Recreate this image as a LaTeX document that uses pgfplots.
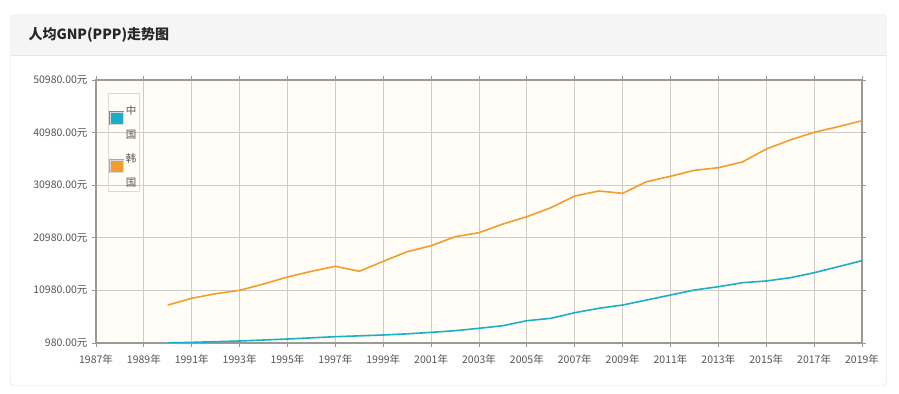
\documentclass[border=0pt]{standalone}
\usepackage{pgfplots}
\pgfplotsset{compat=1.18}
\usepackage{fontspec}
\setmainfont{Noto Sans CJK SC}
\definecolor{cnblue}{HTML}{1AAFC6}
\definecolor{krorange}{HTML}{F29E2E}
\definecolor{plotbg}{HTML}{FFFDF5}
\definecolor{gridc}{HTML}{CCCCCC}
\definecolor{axc}{HTML}{9A9A9A}
\definecolor{tickc}{HTML}{555555}
\newcommand\vt[2]{\raisebox{4.5bp}{\ensuremath{\vcenter{\baselineskip=24.5bp\hbox{#1}\hbox{#2}}}}\hspace{8bp}}
\begin{document}
\begin{tikzpicture}
\fill[white] (0bp,0bp) rectangle (899bp,394bp);
\draw[black!13, rounded corners=3bp] (10.5bp,8.5bp) rectangle (886.5bp,379.5bp);
\fill[black!4] (11bp,339bp) rectangle (886bp,379bp);
\draw[black!10] (11bp,339bp) -- (886bp,339bp);
\node[anchor=west, font=\bfseries\fontsize{14bp}{16bp}\selectfont, text=black!85] at (25bp,359bp) {人均GNP(PPP)走势图};
\begin{axis}[
  at={(96bp,51bp)}, anchor=south west,
  scale only axis, width=766bp, height=263bp,
  xmin=1987, xmax=2019, ymin=980, ymax=50980,
  scaled y ticks=false,
  xtick={1987,1989,...,2019},
  xticklabels={1987年,1989年,1991年,1993年,1995年,1997年,1999年,2001年,2003年,2005年,2007年,2009年,2011年,2013年,2015年,2017年,2019年},
  ytick={980,10980,20980,30980,40980,50980},
  yticklabels={980.00元,10980.00元,20980.00元,30980.00元,40980.00元,50980.00元},
  tick label style={font=\fontsize{10.5bp}{12bp}\selectfont, text=tickc},
  xticklabel style={yshift=-4bp},
  yticklabel style={xshift=-1bp},
  grid=major, major grid style={gridc, line width=0.8bp},
  axis line style={axc, line width=1.8bp},
  tick style={axc, line width=0.8bp},
  tick align=outside, major tick length=4bp,
  axis background/.style={fill=plotbg},
  legend style={at={(rel axis cs:0,1)}, anchor=north west, xshift=12bp, yshift=-13bp,
    draw=black!15, fill=none, font=\fontsize{10.5bp}{12bp}\selectfont, text=tickc,
    inner sep=1bp, row sep=0bp, legend cell align=left},
  legend image code/.code={\path[draw=none,fill=none] (0bp,-24bp) rectangle (13bp,24bp); \fill[#1] (0bp,-6bp) rectangle (13bp,6bp); \draw[black!15, line width=0.6bp] (0bp,-6bp) rectangle (13bp,6bp);},
]
\addplot[cnblue, line width=1.6bp] coordinates {
(1990,1000) (1991,1100) (1992,1230) (1993,1360) (1994,1550) (1995,1740) (1996,1960) (1997,2180) (1998,2340) (1999,2500) (2000,2720) (2001,3000) (2002,3320) (2003,3770) (2004,4270) (2005,5220) (2006,5670) (2007,6740) (2008,7570) (2009,8200) (2010,9150) (2011,10100) (2012,11055) (2013,11680) (2014,12440) (2015,12770) (2016,13390) (2017,14340) (2018,15485) (2019,16630)};
\addlegendentry{\vt{中}{国}}
\addplot[krorange, line width=1.6bp] coordinates {
(1990,8204) (1991,9477) (1992,10350) (1993,10998) (1994,12196) (1995,13527) (1996,14610) (1997,15561) (1998,14610) (1999,16511) (2000,18336) (2001,19477) (2002,21188) (2003,21948) (2004,23600) (2005,24990) (2006,26700) (2007,28925) (2008,29875) (2009,29437) (2010,31644) (2011,32670) (2012,33811) (2013,34305) (2014,35389) (2015,37860) (2016,39571) (2017,41034) (2018,42099) (2019,43240)};
\addlegendentry{\vt{韩}{国}}
\draw[black!22, line width=2bp] ([xshift=2.5bp,yshift=-3bp]rel axis cs:1,1) -- ([xshift=2.5bp,yshift=-2.5bp]rel axis cs:1,0) -- ([xshift=3bp,yshift=-2.5bp]rel axis cs:0,0);
\end{axis}
\end{tikzpicture}
\end{document}
